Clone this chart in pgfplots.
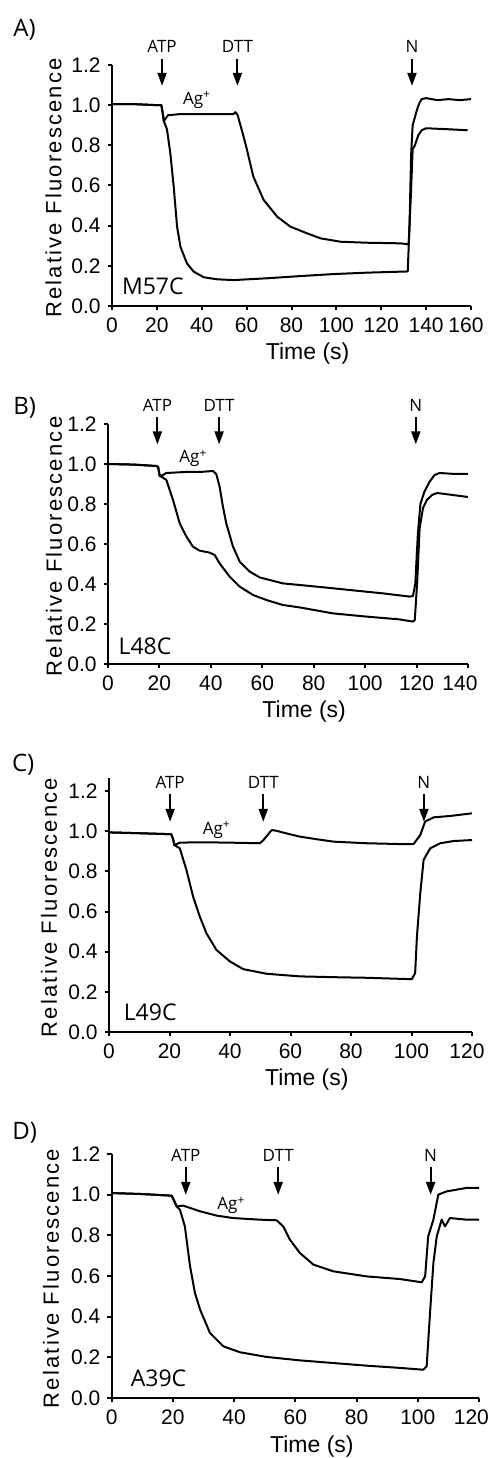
\documentclass[border=0pt]{standalone}
\usepackage{fontspec}
\setmainfont{Liberation Sans}
\newfontfamily\annfont{Open Sans}
\newfontfamily\labfont[LetterSpace=10]{Liberation Sans}
\usepackage{pgfplots}
\pgfplotsset{compat=1.18}
\usetikzlibrary{arrows.meta}

% event arrow: x, top, tip, label
\newcommand{\evt}[4]{%
  \draw[line width=1pt,-{Triangle[length=6.5pt,width=4.5pt]}] (axis cs:#1,#2) -- (axis cs:#1,#3);
  \node[font=\annfont\fontsize{8.5}{10}\selectfont, anchor=base, inner sep=0pt, yshift=3pt] at (axis cs:#1,#2) {#4};}

\tikzset{
  tag/.style={font=\annfont\fontsize{11.5}{13}\selectfont, anchor=center, inner sep=0pt},
  ag/.style={font=\annfont\fontsize{8.5}{10}\selectfont, anchor=center, inner sep=0pt},
  plab/.style={font=\annfont\fontsize{12}{14}\selectfont, anchor=base west, inner sep=0pt},
}

\pgfplotsset{
  panel/.style={
    scale only axis, clip=false,
    axis lines=left, axis line style={-, line width=1pt},
    tick align=outside, major tick length=2.2pt, tick style={black, line width=1pt},
    xmin=0, ymin=0, ytick={0,0.2,...,1.2},
    /pgf/number format/assume math mode=true,
    yticklabel style={/pgf/number format/fixed, /pgf/number format/fixed zerofill, /pgf/number format/precision=1},
    ticklabel style={font=\fontsize{10.5}{12}\selectfont},
    xlabel={Time (s)}, ylabel={Relative Fluorescence},
    xlabel style={font=\fontsize{11.5}{13}\selectfont, at={(axis description cs:0.545,0)}, anchor=base, yshift=-27pt},
  },
  lastx/.style 2 args={extra x ticks={#1}, extra x tick style={xticklabel style={xshift=#2}}},
  ylab/.style={ylabel style={font=\labfont\fontsize{11}{13}\selectfont, at={(axis description cs:#1,0.49)}, anchor=center}},
  tr/.style={black, line width=1pt, line join=round, mark=none},
}

\begin{document}
\begin{tikzpicture}
\useasboundingbox (0,0) rectangle (246pt,729pt);

\node[plab] at (6.5pt,710.7pt) {A)};
\node[plab] at (6.5pt,521.5pt) {B)};
\node[plab] at (5.8pt,343.2pt) {C)};
\node[plab] at (6pt,159pt) {D)};

% A) M57C
\begin{axis}[panel, ylab=-0.163, at={(56pt,576pt)}, anchor=south west,
  width=179.5pt, height=120.5pt, xmax=160, ymax=1.2, xtick={0,20,...,140}, lastx={160}{-2.5pt}]
\addplot[tr] coordinates {
(0,1.005) (10,1.005) (20,1.0) (22,1.0) (22.6,0.96) (23.1,0.92) (24,0.935) (25,0.95) (30,0.955)
(40,0.955) (50,0.955) (54,0.955) (55,0.965) (56,0.95) (58,0.87) (60,0.785) (63,0.644) (67.6,0.528)
(73.6,0.445) (79.5,0.395) (86.9,0.362) (92.9,0.337) (101.8,0.32) (113.7,0.315) (128.5,0.312)
(132.2,0.307) (133.2,0.55) (134,0.78) (135,0.80) (136.5,0.85) (138,0.875) (140,0.885) (150,0.88) (158.5,0.875)
};
\addplot[tr] coordinates {
(0,1.005) (10,1.005) (20,1.0) (22,1.0) (22.6,0.96) (23.1,0.92) (24.5,0.88) (26,0.76) (27.5,0.594)
(29,0.395) (30.5,0.295) (33.4,0.212) (36.4,0.171) (40.9,0.143) (46.8,0.133) (54.2,0.129) (69.1,0.138)
(84,0.149) (98.8,0.159) (113.7,0.166) (131.8,0.172) (132.6,0.4) (133.3,0.75) (134,0.9) (135,0.94)
(136,0.98) (137,1.01) (138,1.03) (140,1.035) (145,1.025) (150,1.03) (155,1.025) (160,1.03)
};
\evt{22.3}{1.230}{1.096}{ATP}
\evt{55.9}{1.230}{1.096}{DTT}
\evt{133.7}{1.230}{1.096}{N}
\node[ag] at (axis cs:37.9,1.026) {Ag\textsuperscript{+}};
\node[tag] at (axis cs:18.2,0.096) {M57C};
\end{axis}

% B) L48C
\begin{axis}[panel, ylab=-0.15, at={(54pt,397pt)}, anchor=south west,
  width=180pt, height=120pt, xmax=140, ymax=1.2, xtick={0,20,...,120}, lastx={140}{-4pt}]
\addplot[tr] coordinates {
(0,1.0) (10,0.997) (18.8,0.99) (19.5,0.985) (20.1,0.94) (21.4,0.945) (22.7,0.955) (30,0.96) (35.6,0.96)
(40.8,0.965) (42.1,0.95) (43.4,0.887) (44.7,0.787) (46,0.703) (48.6,0.587) (51.2,0.512) (55.1,0.462)
(59,0.433) (68,0.403) (81,0.387) (94,0.37) (107,0.353) (117.3,0.337) (118.6,0.34) (119.5,0.4)
(120.5,0.65) (121.5,0.8) (123,0.86) (125,0.91) (127,0.945) (129,0.955) (135,0.95) (140,0.95)
};
\addplot[tr] coordinates {
(0,1.0) (10,0.997) (18.8,0.99) (19.5,0.985) (20.1,0.94) (21,0.935) (22.7,0.92) (25.3,0.82) (27.9,0.703)
(30.5,0.637) (33,0.587) (35.6,0.567) (39.5,0.557) (41.5,0.545) (43.4,0.503) (47.3,0.437) (51.2,0.387)
(56.4,0.345) (61.6,0.32) (68,0.295) (74.5,0.283) (87.5,0.253) (100.5,0.237) (113.4,0.223) (118.6,0.212)
(119.3,0.22) (120.2,0.4) (121.2,0.68) (122.5,0.78) (124,0.82) (126,0.845) (128,0.855) (134,0.845) (140,0.835)
};
\evt{19.2}{1.233}{1.098}{ATP}
\evt{43.2}{1.233}{1.098}{DTT}
\evt{119.7}{1.233}{1.098}{N}
\node[ag] at (axis cs:33.2,1.028) {Ag\textsuperscript{+}};
\node[tag] at (axis cs:14.4,0.09) {L48C};
\end{axis}

% C) L49C
\begin{axis}[panel, ylab=-0.165, at={(54.5pt,213pt)}, anchor=south west,
  width=181.5pt, height=127pt, xmax=120, ymax=1.265, xtick={0,20,...,100}, lastx={120}{-2.5pt}]
\addplot[tr] coordinates {
(0,0.994) (10,0.99) (20.6,0.985) (21.2,0.96) (21.6,0.931) (23.4,0.943) (30,0.945) (40,0.943)
(49.9,0.94) (51,0.955) (52,0.973) (53.8,1.006) (55.4,1.002) (58.7,0.989) (63.1,0.973) (68.7,0.96)
(74.2,0.948) (85.2,0.94) (96.2,0.936) (100.7,0.936) (102.9,0.981) (104.5,1.048) (107.3,1.069)
(112.8,1.076) (120,1.089)
};
\addplot[tr] coordinates {
(0,0.994) (10,0.99) (20.6,0.985) (21.2,0.96) (21.6,0.931) (23.4,0.915) (25.6,0.807) (27.8,0.674)
(30,0.575) (32.2,0.492) (35.5,0.409) (40,0.351) (44.4,0.313) (52.1,0.29) (63.1,0.277) (74.2,0.273)
(85.2,0.27) (100.1,0.263) (101.2,0.293) (101.8,0.476) (102.9,0.691) (104,0.857) (106.2,0.915)
(109.5,0.94) (113.9,0.951) (120,0.956)
};
\evt{20.2}{1.185}{1.047}{ATP}
\evt{51}{1.185}{1.047}{DTT}
\evt{104.1}{1.185}{1.047}{N}
\node[ag] at (axis cs:35.6,1.006) {Ag\textsuperscript{+}};
\node[tag] at (axis cs:13.6,0.097) {L49C};
\end{axis}

% D) A39C
\begin{axis}[panel, ylab=-0.165, at={(55.85pt,30pt)}, anchor=south west,
  width=183.65pt, height=122pt, xmax=120, ymax=1.2, xtick={0,20,...,100}, lastx={120}{-3.8pt}]
\addplot[tr] coordinates {
(0,1.008) (10,1.003) (19.6,0.995) (20.4,0.97) (21.2,0.943) (23.4,0.946) (28.9,0.918) (34.3,0.897)
(39.7,0.885) (48.4,0.877) (53.9,0.874) (56.1,0.843) (58.2,0.779) (61.5,0.713) (65.9,0.656)
(72.4,0.623) (83.3,0.598) (94.2,0.585) (101.3,0.569) (102.4,0.598) (103.4,0.795) (105.1,0.877)
(106.7,1.0) (109.4,1.016) (115.9,1.033) (120,1.033)
};
\addplot[tr] coordinates {
(0,1.008) (10,1.003) (19.6,0.995) (20.4,0.97) (21.2,0.943) (22.3,0.926) (23.9,0.844) (25.6,0.648)
(27.2,0.516) (28.9,0.434) (32.1,0.32) (36.5,0.254) (41.9,0.225) (50.6,0.202) (61.5,0.185)
(72.4,0.172) (83.3,0.159) (94.2,0.148) (101.8,0.139) (102.9,0.156) (104,0.418) (105.1,0.664)
(106.2,0.795) (107.8,0.877) (108.9,0.844) (110.5,0.885) (116,0.877) (120,0.877)
};
\evt{24.2}{1.135}{0.999}{ATP}
\evt{54.4}{1.135}{0.999}{DTT}
\evt{104.2}{1.135}{0.999}{N}
\node[ag] at (axis cs:39.1,0.946) {Ag\textsuperscript{+}};
\node[tag] at (axis cs:15.3,0.098) {A39C};
\end{axis}
\end{tikzpicture}
\end{document}
